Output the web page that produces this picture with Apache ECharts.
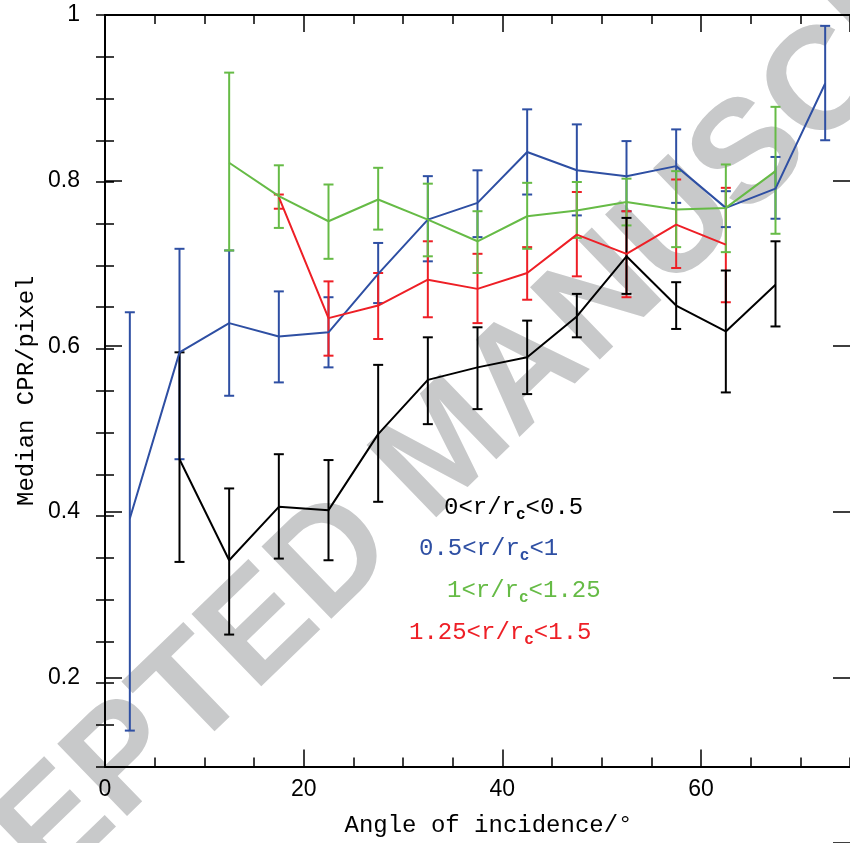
<!DOCTYPE html>
<html>
<head>
<meta charset="utf-8">
<script src="https://cdn.jsdelivr.net/npm/echarts@6/dist/echarts.min.js"></script>
<style>html,body{margin:0;padding:0;background:#fff}#c{width:850px;height:843px}</style>
</head>
<body>
<div id="c"></div>
<script>
// Bin centres (angle of incidence, degrees)
const blackX = [7.5,12.5,17.5,22.5,27.5,32.5,37.5,42.5,47.5,52.5,57.5,62.5,67.5];
const blackMed = [0.468,0.347,0.411,0.407,0.498,0.563,0.578,0.590,0.639,0.711,0.652,0.621,0.677];
const blackLo  = [0.345,0.258,0.349,0.347,0.417,0.510,0.528,0.546,0.614,0.666,0.624,0.548,0.627];
const blackHi  = [0.596,0.433,0.474,0.467,0.581,0.614,0.626,0.634,0.666,0.757,0.680,0.694,0.729];

const blueX = [2.5,7.5,12.5,17.5,22.5,27.5,32.5,37.5,42.5,47.5,52.5,57.5,62.5,67.5,72.5];
const blueMed = [0.397,0.596,0.631,0.615,0.620,0.690,0.755,0.775,0.836,0.814,0.807,0.819,0.769,0.792,0.918];
const blueLo  = [0.143,0.468,0.544,0.560,0.578,0.655,0.705,0.734,0.785,0.760,0.765,0.775,0.746,0.756,0.850];
const blueHi  = [0.644,0.720,0.718,0.669,0.662,0.727,0.807,0.814,0.887,0.869,0.849,0.863,0.789,0.830,0.987];

const greenX = [12.5,17.5,22.5,27.5,32.5,37.5,42.5,47.5,52.5,57.5,62.5,67.5];
const greenMed = [0.823,0.783,0.753,0.779,0.755,0.729,0.759,0.766,0.776,0.767,0.769,0.813];
const greenLo  = [0.718,0.745,0.708,0.743,0.711,0.691,0.720,0.733,0.748,0.722,0.716,0.738];
const greenHi  = [0.931,0.820,0.797,0.817,0.798,0.765,0.799,0.800,0.804,0.813,0.821,0.890];

const redX = [17.5,22.5,27.5,32.5,37.5,42.5,47.5,52.5,57.5,62.5];
const redMed = [0.782,0.637,0.652,0.683,0.672,0.691,0.737,0.714,0.749,0.725];
const redLo  = [0.768,0.592,0.612,0.638,0.631,0.659,0.687,0.662,0.697,0.656];
const redHi  = [0.785,0.681,0.691,0.729,0.714,0.722,0.788,0.765,0.803,0.793];

const BLACK = '#000000', BLUE = '#2e4fa3', GREEN = '#66bb46', RED = '#ee1f26';
const MONO = '"Liberation Mono", "DejaVu Sans Mono", monospace';
const SANS = '"Liberation Sans", Arial, sans-serif';

function lineSeries(xs, med, color) {
  return {
    type: 'line', xAxisIndex: 0, yAxisIndex: 0,
    data: xs.map((x, i) => [x, med[i]]),
    symbol: 'none', showSymbol: false,
    lineStyle: { color: color, width: 2 },
    z: 3, animation: false
  };
}
function errSeries(xs, lo, hi, color) {
  return {
    type: 'custom', xAxisIndex: 0, yAxisIndex: 0,
    data: xs.map((x, i) => [x, lo[i], hi[i]]),
    renderItem: function (params, api) {
      const x = api.value(0);
      const a = api.coord([x, api.value(1)]);
      const b = api.coord([x, api.value(2)]);
      const w = 5;
      const st = { stroke: color, lineWidth: 2 };
      return {
        type: 'group',
        children: [
          { type: 'line', shape: { x1: a[0], y1: a[1], x2: b[0], y2: b[1] }, style: st },
          { type: 'line', shape: { x1: a[0] - w, y1: a[1], x2: a[0] + w, y2: a[1] }, style: st },
          { type: 'line', shape: { x1: b[0] - w, y1: b[1], x2: b[0] + w, y2: b[1] }, style: st }
        ]
      };
    },
    z: 3, animation: false
  };
}

const axisLine = { show: true, lineStyle: { color: '#000', width: 2 } };
function minorTick() { return { show: true, inside: true, length: 9, lineStyle: { color: '#000', width: 1.5 } }; }
function majorTick() { return { show: true, inside: true, length: 17, lineStyle: { color: '#000', width: 1.5 } }; }

function legendText(x, y, lo, tail, color) {
  return {
    type: 'text', x: x, y: y, z: 10, silent: true,
    style: {
      text: '{n|' + lo + '<r/r}{s|c}{n|' + tail + '}',
      align: 'left', verticalAlign: 'middle', textAlign: 'left', textVerticalAlign: 'middle',
      fill: color,
      rich: {
        n: { fontSize: 24, fontFamily: MONO, lineHeight: 30, verticalAlign: 'middle', fill: color, color: color },
        s: { fontSize: 16, fontWeight: 'bold', fontFamily: MONO, lineHeight: 16, padding: [14, 0, 0, 0], verticalAlign: 'middle', fill: color, color: color }
      }
    }
  };
}

const option = {
  backgroundColor: '#ffffff',
  animation: false,
  grid: [
    { left: 105, top: 15, width: 750, height: 751.5 },
    { left: 105, top: 15, width: 750, height: 835 }
  ],
  xAxis: [
    { type: 'value', gridIndex: 0, position: 'bottom', min: 0, max: 75, interval: 5,
      axisLine: axisLine, axisTick: minorTick(), axisLabel: { show: false }, splitLine: { show: false } },
    { type: 'value', gridIndex: 0, position: 'bottom', min: 0, max: 75, interval: 20,
      axisLine: { show: false }, axisTick: majorTick(), splitLine: { show: false },
      axisLabel: { show: true, margin: 12, color: '#000', fontSize: 23, fontFamily: SANS, showMaxLabel: false },
      name: 'Angle of incidence/°', nameLocation: 'middle', nameGap: 47,
      nameTextStyle: { color: '#000', fontSize: 24, fontFamily: MONO, padding: [0, 0, 0, 22] } },
    { type: 'value', gridIndex: 0, position: 'top', min: 0, max: 75, interval: 5,
      axisLine: axisLine, axisTick: minorTick(), axisLabel: { show: false }, splitLine: { show: false } },
    { type: 'value', gridIndex: 0, position: 'top', min: 0, max: 75, interval: 20,
      axisLine: { show: false }, axisTick: majorTick(), axisLabel: { show: false }, splitLine: { show: false } },
    { type: 'value', gridIndex: 1, min: 0, max: 75, show: false }
  ],
  yAxis: [
    { type: 'value', gridIndex: 0, position: 'left', min: 0.1, max: 1, interval: 0.05,
      axisLine: axisLine, axisTick: minorTick(), axisLabel: { show: false }, splitLine: { show: false },
      name: 'Median CPR/pixel', nameLocation: 'middle', nameGap: 66,
      nameTextStyle: { color: '#000', fontSize: 24, fontFamily: MONO } },
    { type: 'value', gridIndex: 0, position: 'right', min: 0.1, max: 1, interval: 0.05,
      axisLine: axisLine, axisTick: minorTick(), axisLabel: { show: false }, splitLine: { show: false } },
    { type: 'value', gridIndex: 1, position: 'left', min: 0, max: 1, interval: 0.2,
      axisLine: { show: false }, axisTick: majorTick(), splitLine: { show: false },
      axisLabel: { show: true, margin: 25, color: '#000', fontSize: 23, fontFamily: SANS, showMinLabel: false,
        formatter: function (v) { return v === 1 ? '1' : v.toFixed(1); } } },
    { type: 'value', gridIndex: 1, position: 'right', min: 0, max: 1, interval: 0.2,
      axisLine: { show: false }, axisTick: majorTick(), axisLabel: { show: false }, splitLine: { show: false } }
  ],
  graphic: {
    elements: [
      { type: 'text', x: 448, y: 450, rotation: 44 * Math.PI / 180, z: -10, silent: true,
        style: { text: 'ACCEPTED MANUSCRIPT', font: 'bold 146px "Liberation Sans", Arial, sans-serif',
          fill: '#c8c9ca', align: 'center', verticalAlign: 'middle', textAlign: 'center', textVerticalAlign: 'middle' } },
      legendText(444, 508, '0', '<0.5', BLACK),
      legendText(419, 549, '0.5', '<1', BLUE),
      legendText(447, 591, '1', '<1.25', GREEN),
      legendText(409, 633, '1.25', '<1.5', RED)
    ]
  },
  series: [
    errSeries(blueX, blueLo, blueHi, BLUE), lineSeries(blueX, blueMed, BLUE),
    errSeries(redX, redLo, redHi, RED), lineSeries(redX, redMed, RED),
    errSeries(greenX, greenLo, greenHi, GREEN), lineSeries(greenX, greenMed, GREEN),
    errSeries(blackX, blackLo, blackHi, BLACK), lineSeries(blackX, blackMed, BLACK)
  ]
};

const chart = echarts.init(document.getElementById('c'), null, { renderer: 'canvas' });
chart.setOption(option);
</script>
</body>
</html>
